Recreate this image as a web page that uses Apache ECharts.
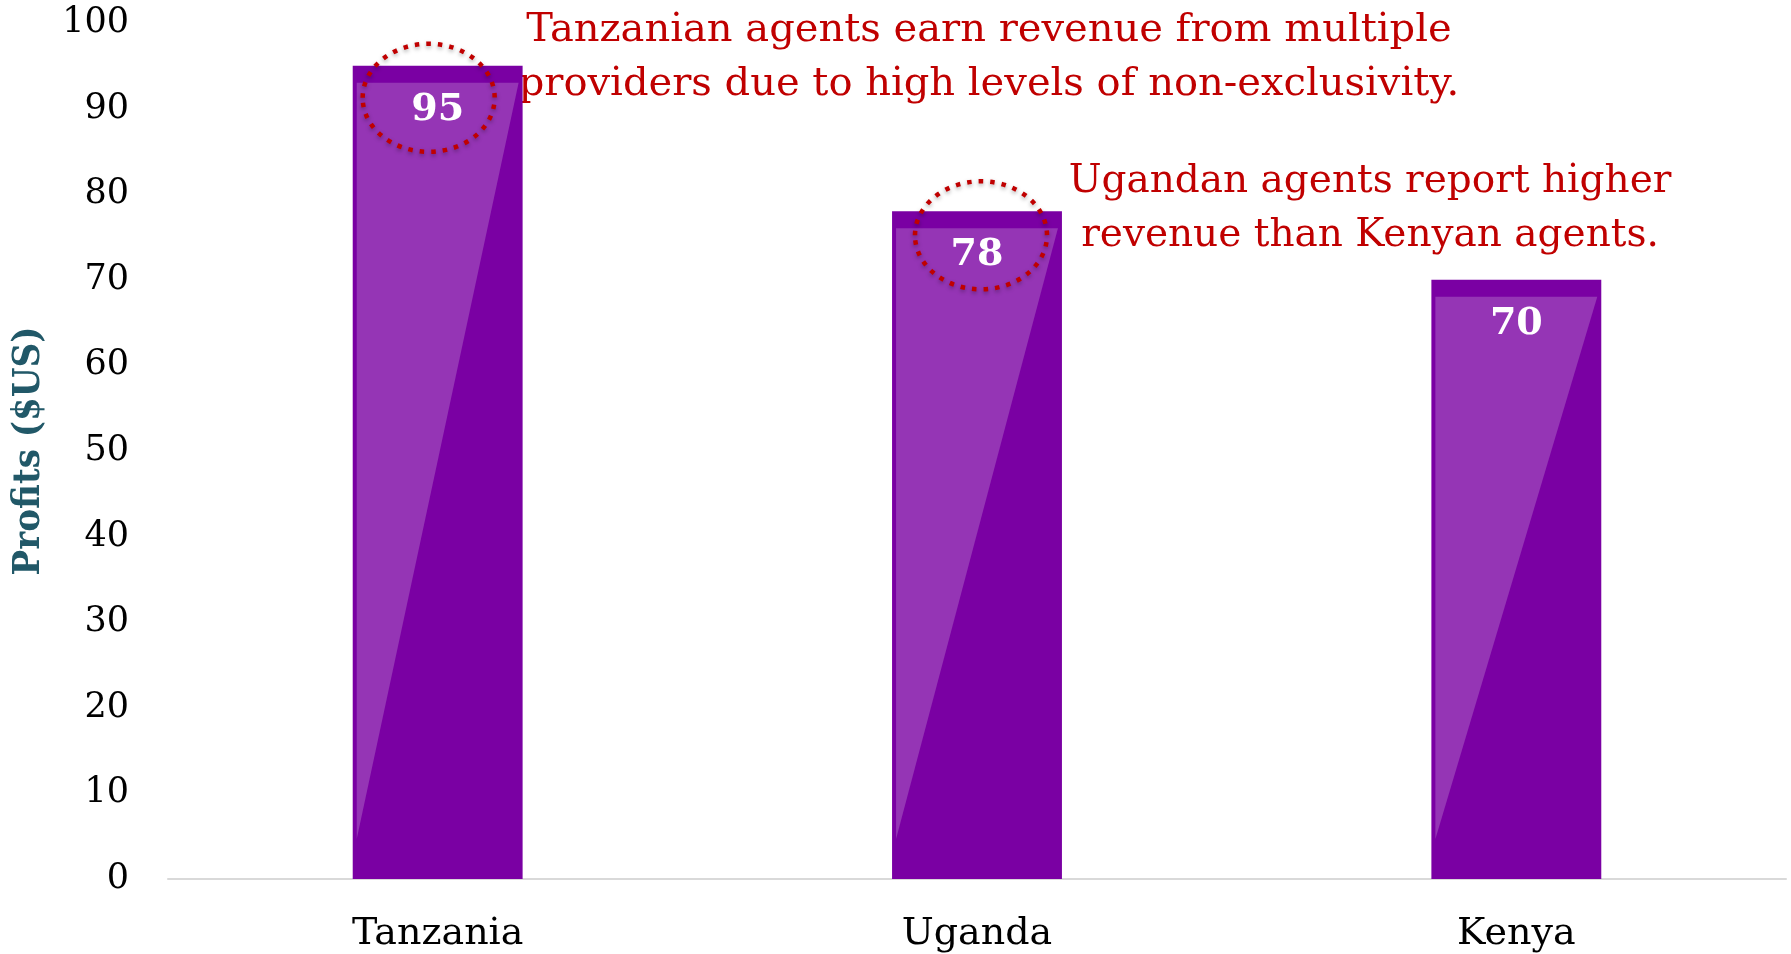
<!DOCTYPE html>
<html>
<head>
<meta charset="utf-8">
<script src="https://cdn.jsdelivr.net/npm/echarts@6/dist/echarts.min.js"></script>
<style>
  html, body { margin: 0; padding: 0; background: #fff; }
  #container { width: 1791px; height: 954px; }
</style>
</head>
<body>
<div id="container"></div>
<script>
// 数据
var countries = ['Tanzania', 'Uganda', 'Kenya'];
var profits = [95, 78, 70];
var circled = [0, 1]; // 圈出的柱子
var notes = [
  'Tanzanian agents earn revenue from multiple\nproviders due to high levels of non-exclusivity.',
  'Ugandan agents report higher\nrevenue than Kenyan agents.'
];

var serif = "'DejaVu Serif', Georgia, serif";
var dom = document.getElementById('container');
var myChart = echarts.init(dom, null, { renderer: 'canvas' });

// 圈的偏移(相对柱顶)
var ringOffset = [[-9, 32], [4, 24]];

function renderBar(params, api) {
  var i = api.value(0), v = api.value(1);
  var top = api.coord([i, v]);
  var base = api.coord([i, 0]);
  var w = api.size([1, 0])[0] * 0.315;
  var L = top[0] - w / 2, R = top[0] + w / 2, T = top[1], B = base[1];
  var kids = [
    { type: 'rect', shape: { x: L, y: T, width: w, height: B - T }, style: { fill: '#7A00A3' } },
    { type: 'polygon', shape: { points: [[L + 4, T + 17], [R - 4, T + 17], [L + 4, B - 40]] },
      style: { fill: '#9535B5' } },
    { type: 'text', style: { text: String(v), x: top[0], y: T + 44, fill: '#fff',
      font: 'bold 38px ' + serif, align: 'center', verticalAlign: 'middle' } }
  ];
  var k = circled.indexOf(i);
  if (k >= 0) {
    kids.push({ type: 'ellipse',
      shape: { cx: top[0] + ringOffset[k][0], cy: T + ringOffset[k][1], rx: 66, ry: 54 },
      style: { fill: 'none', stroke: '#C00000', lineWidth: 4.5, lineDash: [4.5, 7],
        shadowColor: 'rgba(0,0,0,0.35)', shadowBlur: 4, shadowOffsetY: 2 } });
  }
  return { type: 'group', children: kids };
}

var option = {
  animation: false,
  grid: { left: 168, right: 5, top: 23, bottom: 75 },
  xAxis: {
    type: 'category',
    data: countries,
    axisLine: { lineStyle: { color: '#D9D9D9', width: 2 } },
    axisTick: { show: false },
    axisLabel: { color: '#000', fontSize: 38, fontFamily: serif, margin: 36 }
  },
  yAxis: {
    type: 'value',
    min: 0, max: 100, interval: 10,
    name: 'Profits ($US)',
    nameLocation: 'middle',
    nameGap: 120,
    nameTextStyle: { color: '#215868', fontSize: 38, fontWeight: 'bold',
      fontFamily: "'DejaVu Serif Condensed', " + serif },
    axisLine: { show: false },
    axisTick: { show: false },
    splitLine: { show: false },
    axisLabel: { color: '#000', fontSize: 35, fontFamily: serif, margin: 39, padding: [6, 0, 0, 0] }
  },
  graphic: [
    { type: 'text', x: 989, y: 4, style: { text: notes[0], align: 'center', verticalAlign: 'top',
      fill: '#C00000', font: '40px ' + serif, lineHeight: 54 } },
    { type: 'text', x: 1370, y: 155, style: { text: notes[1], align: 'center', verticalAlign: 'top',
      fill: '#C00000', font: '39px ' + serif, lineHeight: 54 } }
  ],
  series: [{
    type: 'custom',
    renderItem: renderBar,
    encode: { x: 0, y: 1 },
    data: profits.map(function (p, i) { return [i, p]; })
  }]
};
myChart.setOption(option);
window.addEventListener('resize', function () { myChart.resize(); });
</script>
</body>
</html>
